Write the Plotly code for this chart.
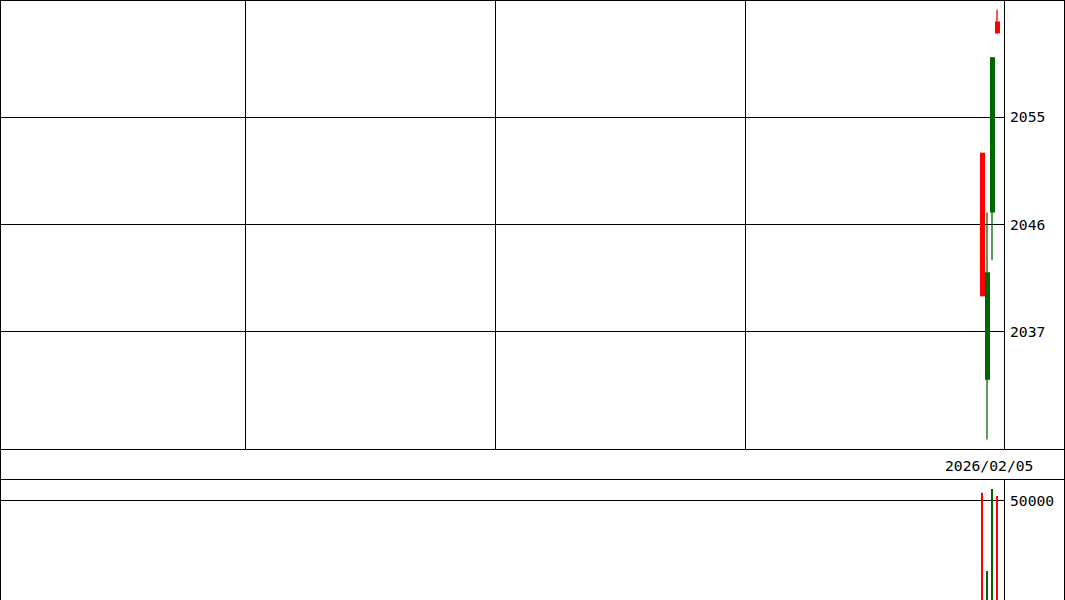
import plotly.graph_objects as go

# ---- data ----
bar_index = [196, 197, 198, 199]
opens  = [2052, 2033, 2047, 2063]
highs  = [2052, 2047, 2060, 2064]
lows   = [2040, 2028, 2043, 2062]
closes = [2040, 2042, 2060, 2062]
volumes = [54200, 14600, 56100, 52500]
date_label = "2026/02/05"
date_pos = 197.3
price_ticks = [2037, 2046, 2055]
volume_ticks = [50000]
grid_x = [48.5, 98.5, 148.5]

UP = "#006600"
DOWN = "#FF0000"
W, H = 1065, 600
FONT = dict(family="DejaVu Sans Mono", size=14.7, color="black")

colors = [UP if c >= o else DOWN for o, c in zip(opens, closes)]
bases = [min(o, c) for o, c in zip(opens, closes)]
heights = [max(abs(c - o), 0.6) for o, c in zip(opens, closes)]

fig = go.Figure()

# wicks
for col in (UP, DOWN):
    xs, ys = [], []
    for i, x in enumerate(bar_index):
        if colors[i] == col:
            xs += [x - 0.1, x - 0.1, None]
            ys += [lows[i], highs[i], None]
    fig.add_trace(go.Scatter(x=xs, y=ys, mode="lines", line=dict(color=col, width=1.3),
                             hoverinfo="skip", showlegend=False, xaxis="x", yaxis="y"))

# bodies
fig.add_trace(go.Bar(x=bar_index, y=heights, base=bases, width=1,
                     marker=dict(color=colors, line=dict(width=0)),
                     showlegend=False, xaxis="x", yaxis="y"))

# volume
fig.add_trace(go.Bar(x=[x - 0.1 for x in bar_index], y=volumes, width=0.22,
                     marker=dict(color=colors, line=dict(width=0)),
                     showlegend=False, xaxis="x2", yaxis="y2"))

xr = [-0.5, 200.3]
xd = [0, 1004 / W]

def py(p):
    return 1 - p / H

def px(p):
    return p / W

fig.update_layout(
    width=W, height=H,
    margin=dict(l=0, r=0, t=0, b=0),
    paper_bgcolor="white", plot_bgcolor="white",
    font=FONT,
    barmode="overlay",
    xaxis=dict(domain=xd, range=xr, tickvals=grid_x, showticklabels=False,
               showgrid=True, gridcolor="black", gridwidth=1, zeroline=False,
               showline=False, ticks="", anchor="y", fixedrange=True),
    yaxis=dict(domain=[py(449), 1], range=[2027.2, 2064.8], side="right",
               tickvals=price_ticks, ticktext=[str(t) for t in price_ticks],
               showgrid=True, gridcolor="black", gridwidth=1, zeroline=False,
               showline=False, ticks="", ticklabelstandoff=5, anchor="x",
               tickfont=FONT, fixedrange=True),
    xaxis2=dict(domain=xd, range=xr, showticklabels=False, showgrid=False,
                zeroline=False, showline=False, ticks="", anchor="y2", fixedrange=True),
    yaxis2=dict(domain=[0, py(480)], range=[0, 60600], side="right",
                tickvals=volume_ticks, ticktext=[str(t) for t in volume_ticks],
                showgrid=True, gridcolor="black", gridwidth=1, zeroline=False,
                showline=False, ticks="", ticklabelstandoff=5, anchor="x2",
                tickfont=FONT, fixedrange=True),
)

line = dict(color="black", width=1)
shapes = [
    dict(type="line", xref="paper", yref="paper", x0=0, x1=1, y0=py(0.5), y1=py(0.5), line=line),
    dict(type="line", xref="paper", yref="paper", x0=px(0.5), x1=px(0.5), y0=0, y1=1, line=line),
    dict(type="line", xref="paper", yref="paper", x0=px(1064.5), x1=px(1064.5), y0=0, y1=1, line=line),
    dict(type="line", xref="paper", yref="paper", x0=px(1004.5), x1=px(1004.5), y0=py(449), y1=1, line=line),
    dict(type="line", xref="paper", yref="paper", x0=px(1004.5), x1=px(1004.5), y0=0, y1=py(480), line=line),
    dict(type="line", xref="paper", yref="paper", x0=0, x1=1, y0=py(449.5), y1=py(449.5), line=line),
    dict(type="line", xref="paper", yref="paper", x0=0, x1=1, y0=py(479.5), y1=py(479.5), line=line),
]
fig.update_layout(shapes=shapes)

fig.add_annotation(x=date_pos, xref="x", y=py(465), yref="paper", text=date_label,
                   showarrow=False, xanchor="center", yanchor="middle", font=FONT)

fig.write_html("out.html", config={"displayModeBar": False},
               post_script="document.body.style.margin='0';document.body.style.overflow='hidden';")
